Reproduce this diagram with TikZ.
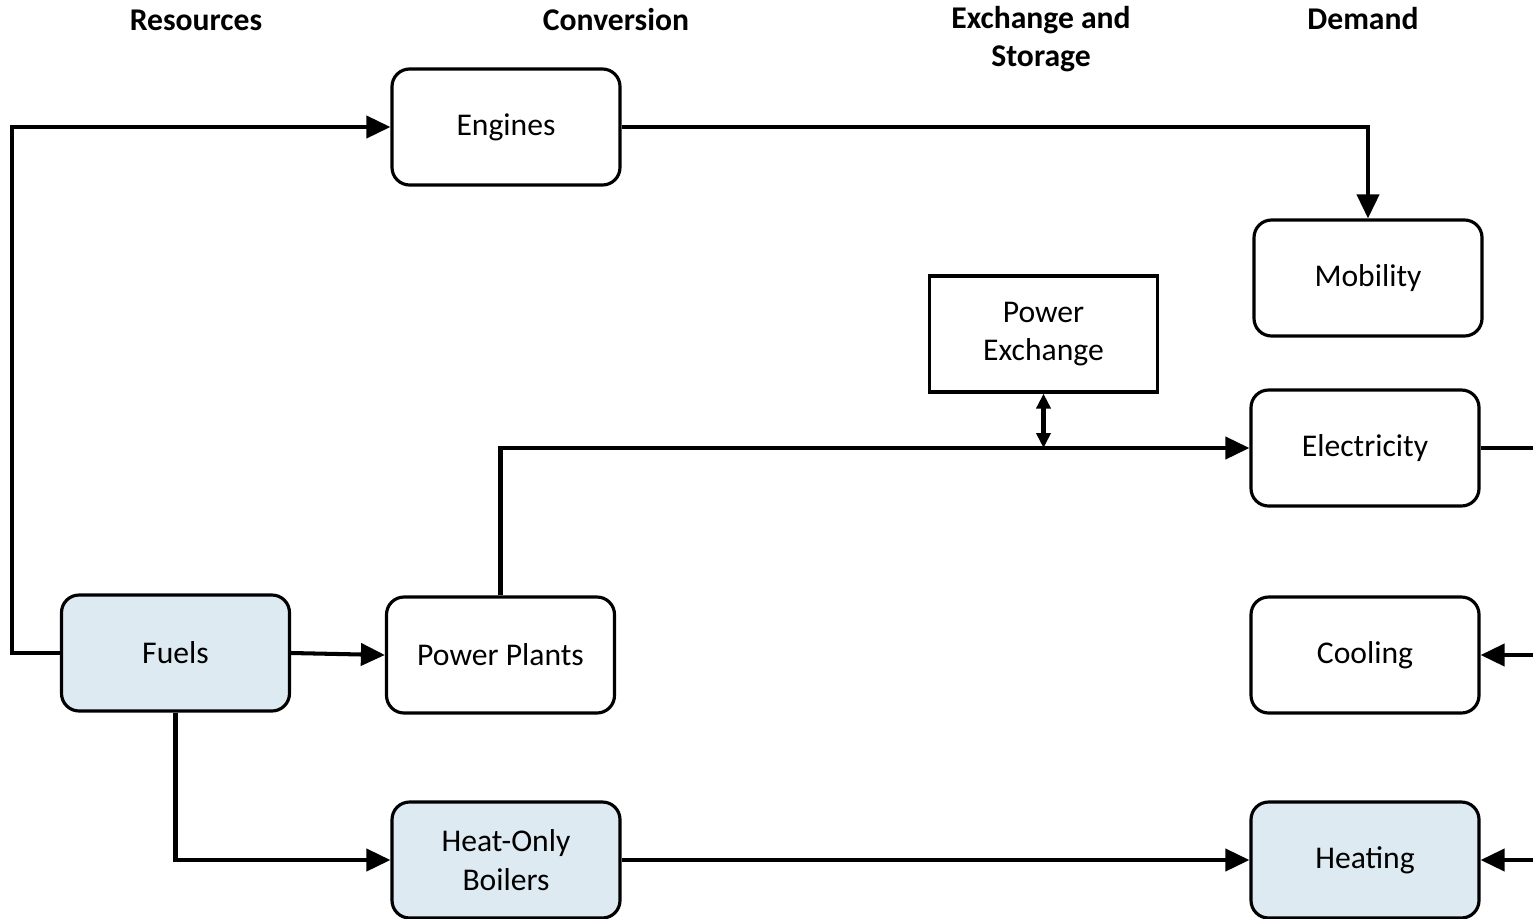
\documentclass[tikz,border=0pt]{standalone}
\usepackage{fontspec}
\setmainfont{Carlito}
\usetikzlibrary{positioning, arrows.meta}
\definecolor{fuelblue}{HTML}{DEEAF1}

\begin{document}
\begin{tikzpicture}[
  box/.style={rectangle, draw=black, line width=0.9pt, fill=white,
              rounded corners=5pt, minimum width=2.28cm,
              minimum height=1.16cm, align=center,
              font=\fontsize{9}{11}\selectfont},
  hdr/.style={font=\fontsize{9}{11}\selectfont\bfseries, align=center},
  arr/.style={-{Triangle[length=2.4mm,width=2.2mm]}, line width=1.15pt},
  link/.style={line width=1.15pt},
  xarr/.style={{Triangle[length=1.5mm,width=1.4mm]}-{Triangle[length=1.5mm,width=1.4mm]}, line width=1.15pt}
]
  \useasboundingbox (0,0) rectangle (15.33,-9.18);

  % column headers
  \node[hdr] (h1) at (1.96,-0.2) {Resources};
  \node[hdr] (h2) at (6.16,-0.2) {Conversion};
  \node[hdr] (h3) at (10.41,-0.39) {Exchange and\\Storage};
  \node[hdr] (h4) at (13.63,-0.19) {Demand};

  \node[box, fill=fuelblue] (fuel) at (1.755,-6.53) {Fuels};
  \node[box] (plant) at (5.005,-6.55) {Power Plants};
  \node[box] (eng) at (5.06,-1.27) {Engines};
  \node[box, fill=fuelblue] (boil) at (5.06,-8.6) {Heat-Only\\Boilers};
  \node[box] (mob) at (13.68,-2.78) {Mobility};
  \node[box, sharp corners] (pex) at (10.435,-3.34) {Power\\Exchange};
  \node[box] (elec) at (13.65,-4.48) {Electricity};
  \node[box] (cool) at (13.65,-6.55) {Cooling};
  \node[box, fill=fuelblue] (heat) at (13.65,-8.6) {Heating};

  % free ends at the right edge
  \coordinate (eout) at (15.33,-4.48);
  \coordinate (cin) at (15.33,-6.55);
  \coordinate (hin) at (15.33,-8.6);

  \draw[arr] (fuel.west) -- ++(-0.48,0) |- (eng.west);
  \draw[arr] (eng.east) -| (mob.north);
  \draw[arr] (fuel.east) -- (plant.west);
  \draw[arr] (plant.north) |- (elec.west);
  \draw[xarr] (pex.south) -- (pex.south |- elec.west);
  \draw[link] (elec.east) -- (eout);
  \draw[arr] (cin) -- (cool.east);
  \draw[arr] (hin) -- (heat.east);
  \draw[arr] (fuel.south) |- (boil.west);
  \draw[arr] (boil.east) -- (heat.west);
\end{tikzpicture}
\end{document}
